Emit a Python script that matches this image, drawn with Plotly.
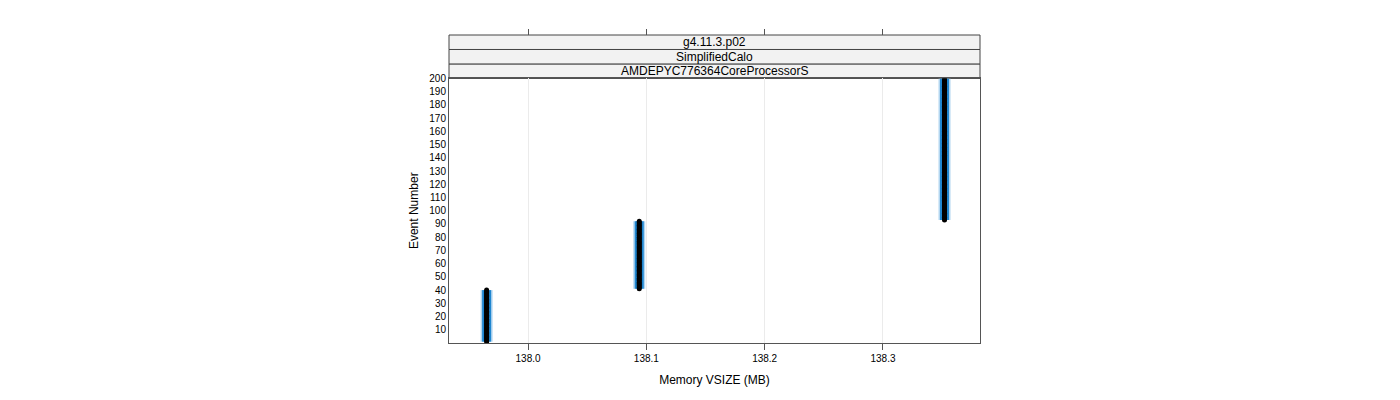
import plotly.graph_objects as go

# Memory levels (MB) and the range of events spent at each level
mem_levels = [137.965, 138.094, 138.352]
first_event = [1, 41, 93]
last_event = [40, 92, 200]

x_ticks = [138.0, 138.1, 138.2, 138.3]
x_tick_labels = ["138.0", "138.1", "138.2", "138.3"]
y_ticks = list(range(10, 201, 10))

strip_labels = ["g4.11.3.p02", "SimplifiedCalo", "AMDEPYC776364CoreProcessorS"]

# expand to one point per event
mem, events = [], []
band_x, band_y = [], []
for m, a, b in zip(mem_levels, first_event, last_event):
    for ev in range(a, b + 1):
        mem.append(m)
        events.append(ev)
    band_x += [m, m, None]
    band_y += [a, b, None]

fig = go.Figure()

# blue band behind, black dots on top
fig.add_scatter(x=band_x, y=band_y, mode='lines', xaxis='x', yaxis='y',
                line=dict(width=12, color='#b3d6f0'), showlegend=False, hoverinfo='skip')
fig.add_scatter(x=band_x, y=band_y, mode='lines', xaxis='x', yaxis='y',
                line=dict(width=9, color='#1f86d0'), showlegend=False, hoverinfo='skip')
fig.add_scatter(x=mem, y=events, mode='markers', xaxis='x', yaxis='y',
                marker=dict(symbol='circle', size=5, color='black'),
                showlegend=False)

# invisible trace so the top tick axis gets drawn
fig.add_scatter(x=[x_ticks[0]], y=[y_ticks[0]], xaxis='x2', yaxis='y',
                mode='markers', marker=dict(opacity=0), showlegend=False, hoverinfo='skip')

PLOT_H = 265.0   # plot panel height in px
STRIP_H = 14.5
TOTAL_H = PLOT_H + 3 * STRIP_H
dom_top = PLOT_H / TOTAL_H

axis_font = dict(family='Liberation Sans, Arial, sans-serif', size=10, color='black')

# page body has an 8px margin, so shift everything up/left by 8
fig.update_layout(
    width=1400, height=400,
    margin=dict(l=441, r=428, t=27, b=65),
    plot_bgcolor='white', paper_bgcolor='white',
    font=dict(family='Liberation Sans, Arial, sans-serif', size=12, color='black'),
    xaxis=dict(range=[137.9332, 138.382], tickvals=x_ticks, ticktext=x_tick_labels,
               ticks='outside', ticklen=6, tickcolor='#555', tickfont=axis_font,
               showgrid=True, gridcolor='#ebebeb', gridwidth=1, zeroline=False,
               showline=True, linecolor='#555', linewidth=1, mirror=True,
               title=dict(text='Memory VSIZE (MB)', font=dict(size=12), standoff=12),
               anchor='y'),
    xaxis2=dict(matches='x', overlaying='x', side='top', anchor='free', position=1,
                tickvals=x_ticks, showticklabels=False, ticks='outside', ticklen=6,
                tickcolor='#555', showgrid=False, zeroline=False, showline=False),
    yaxis=dict(range=[0, 200], tickvals=y_ticks, ticks='', tickfont=axis_font,
               domain=[0, dom_top], showgrid=False, zeroline=False,
               showline=True, linecolor='#555', linewidth=1, mirror=True,
               title=dict(text='Event Number', font=dict(size=12), standoff=8)),
)

# lattice-style strips above the panel
for i, label in enumerate(reversed(strip_labels)):
    y0 = (PLOT_H + i * STRIP_H) / TOTAL_H
    y1 = (PLOT_H + (i + 1) * STRIP_H) / TOTAL_H
    fig.add_shape(type='rect', xref='paper', yref='paper', x0=0, x1=1, y0=y0, y1=y1,
                  fillcolor='#f2f2f2', line=dict(color='#444', width=1), layer='below')
    fig.add_annotation(xref='paper', yref='paper', x=0.5, y=(y0 + y1) / 2,
                       text=label, showarrow=False, font=dict(size=12),
                       yanchor='middle')

fig.write_html("out.html")
